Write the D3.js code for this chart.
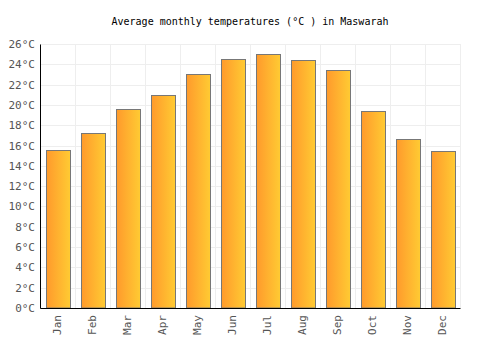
<!DOCTYPE html>
<html>
<head>
<meta charset="utf-8">
<script src="https://cdn.jsdelivr.net/npm/d3@7"></script>
<style>
  body { margin: 0; background: #fff; }
  text { font-family: "DejaVu Sans Mono", monospace; }
</style>
</head>
<body>
<script>
// data
var months = ["Jan", "Feb", "Mar", "Apr", "May", "Jun", "Jul", "Aug", "Sep", "Oct", "Nov", "Dec"];
var temps = [15.6, 17.2, 19.6, 21.0, 23.0, 24.5, 25.0, 24.4, 23.4, 19.4, 16.6, 15.5];
var yTicks = [0, 2, 4, 6, 8, 10, 12, 14, 16, 18, 20, 22, 24, 26];

var margin = {top: 44, right: 40, bottom: 42, left: 40};
var width = 500 - margin.left - margin.right;
var height = 350 - margin.top - margin.bottom;

var svg = d3.select("body").append("svg")
    .attr("width", 500)
    .attr("height", 350);

var defs = svg.append("defs");
var grad = defs.append("linearGradient")
    .attr("id", "barGrad")
    .attr("x1", "0%").attr("x2", "100%")
    .attr("y1", "0%").attr("y2", "0%");
grad.append("stop").attr("offset", "0%").attr("stop-color", "#ff9a2c");
grad.append("stop").attr("offset", "100%").attr("stop-color", "#ffcb33");

svg.append("text")
    .attr("x", 250)
    .attr("y", 25)
    .attr("text-anchor", "middle")
    .attr("font-size", "10px")
    .attr("fill", "#000")
    .text("Average monthly temperatures (°C ) in Maswarah");

var g = svg.append("g")
    .attr("transform", "translate(" + margin.left + "," + margin.top + ")");

var x = d3.scaleBand().domain(months).range([0, width]).paddingInner(0.32).paddingOuter(0.16);
var y = d3.scaleLinear().domain([0, 26]).range([height, 0]);

// grid
var step = width / months.length;
g.selectAll(".vgrid").data(d3.range(months.length + 1))
    .enter().append("line")
    .attr("x1", function(d) { return Math.round(d * step) + 0.5; })
    .attr("x2", function(d) { return Math.round(d * step) + 0.5; })
    .attr("y1", 0).attr("y2", height)
    .attr("stroke", "#eeeeee");

g.selectAll(".hgrid").data(yTicks)
    .enter().append("line")
    .attr("x1", 0).attr("x2", width)
    .attr("y1", function(d) { return Math.round(y(d)) + 0.5; })
    .attr("y2", function(d) { return Math.round(y(d)) + 0.5; })
    .attr("stroke", "#eeeeee");

// bars
g.selectAll("rect.bar").data(temps)
    .enter().append("rect")
    .attr("class", "bar")
    .attr("x", function(d, i) { return Math.round(x(months[i])) + 0.5; })
    .attr("y", function(d) { return Math.round(y(d)) + 0.5; })
    .attr("width", Math.round(x.bandwidth()))
    .attr("height", function(d) { return height - Math.round(y(d)) - 0.5; })
    .attr("fill", "url(#barGrad)")
    .attr("stroke", "#777")
    .attr("stroke-width", 1);

// axes
var leftAxis = d3.axisLeft(y).tickValues(yTicks)
    .tickSize(0).tickPadding(5)
    .tickFormat(function(d) { return d + "°C"; });
var yAxisGroup = g.append("g").call(leftAxis);
yAxisGroup.select(".domain").attr("stroke", "#000");
yAxisGroup.selectAll("text").attr("font-size", "11px").attr("fill", "#555")
    .style("font-family", "DejaVu Sans Mono, monospace");

var bottomAxis = d3.axisBottom(x).tickSize(0);
var xAxisGroup = g.append("g")
    .attr("transform", "translate(0," + height + ")")
    .call(bottomAxis);
xAxisGroup.select(".domain").attr("stroke", "#000");
xAxisGroup.selectAll("text")
    .attr("font-size", "11px")
    .attr("fill", "#555")
    .style("font-family", "DejaVu Sans Mono, monospace")
    .attr("transform", "rotate(-90)")
    .attr("text-anchor", "end")
    .attr("x", -7)
    .attr("y", 0)
    .attr("dy", "0.35em");
</script>
</body>
</html>
